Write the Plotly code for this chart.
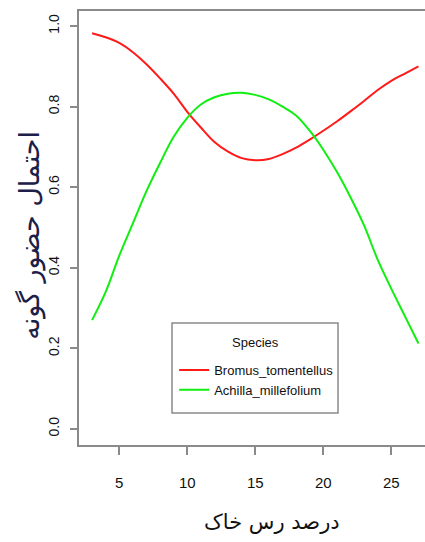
import plotly.graph_objects as go

# Soil clay percentage (x) and fitted occurrence probability per species
clay_pct = [3, 4, 5, 6, 7, 8, 9, 10, 11, 12, 13, 14, 15, 16, 17, 18, 19, 20,
            21, 22, 23, 24, 25, 26, 27]
bromus = [0.982, 0.972, 0.958, 0.935, 0.905, 0.870, 0.832, 0.787, 0.748, 0.712,
          0.688, 0.672, 0.667, 0.670, 0.682, 0.698, 0.718, 0.740, 0.763, 0.788,
          0.814, 0.841, 0.864, 0.882, 0.900]
achillea = [0.270, 0.340, 0.430, 0.510, 0.590, 0.660, 0.725, 0.772, 0.805, 0.823,
            0.832, 0.834, 0.829, 0.818, 0.800, 0.778, 0.740, 0.693, 0.638, 0.575,
            0.505, 0.420, 0.348, 0.280, 0.212]
species_names = ["Bromus_tomentellus", "Achilla_millefolium"]
x_ticks = [5, 10, 15, 20, 25]
y_ticks = [0.0, 0.2, 0.4, 0.6, 0.8, 1.0]
y_tick_text = ["0.0", "0.2", "0.4", "0.6", "0.8", "1.0"]

narrow = "Liberation Sans Narrow, Arial Narrow, Liberation Sans, Arial, sans-serif"
arabic = "DejaVu Sans, sans-serif"
axis_grey = "#8a8a8a"

fig = go.Figure()
fig.add_trace(go.Scatter(x=clay_pct, y=bromus, mode="lines", name=species_names[0],
                         line=dict(color="#ff1a1a", width=2, shape="spline", smoothing=1.0)))
fig.add_trace(go.Scatter(x=clay_pct, y=achillea, mode="lines", name=species_names[1],
                         line=dict(color="#11ee11", width=2, shape="spline", smoothing=1.0)))

fig.update_layout(
    width=425, height=542,
    margin=dict(l=79, r=0, t=11, b=97),
    paper_bgcolor="white", plot_bgcolor="white",
    showlegend=True,
    legend=dict(
        x=0.275, y=0.2074, xanchor="left", yanchor="top",
        borderwidth=0, bgcolor="rgba(0,0,0,0)",
        font=dict(family=narrow, size=13, color="#111"),
        itemwidth=30, tracegroupgap=0,
    ),
    xaxis=dict(
        range=[2.04, 27.48], tickmode="array", tickvals=x_ticks,
        showgrid=False, zeroline=False,
        showline=True, linecolor=axis_grey, linewidth=1.5, mirror=True,
        ticks="outside", ticklen=8, tickwidth=1.5, tickcolor=axis_grey,
        tickfont=dict(family=narrow, size=15, color="#111"),
        ticklabelstandoff=15,
    ),
    yaxis=dict(
        range=[-0.04, 1.0372], tickmode="array", tickvals=y_ticks, ticktext=y_tick_text,
        showgrid=False, zeroline=False,
        showline=True, linecolor=axis_grey, linewidth=1.5, mirror=False,
        ticks="outside", ticklen=7, tickwidth=1.5, tickcolor=axis_grey,
        tickangle=-90,
        tickfont=dict(family=narrow, size=14, color="#111"),
        ticklabelstandoff=6,
    ),
    shapes=[
        # legend frame
        dict(type="rect", xref="paper", yref="paper",
             x0=0.2688, x1=0.7486, y0=0.0737, y1=0.2811,
             line=dict(color=axis_grey, width=1.5), fillcolor="white", layer="below"),
    ],
    annotations=[
        dict(text="Species", xref="paper", yref="paper", x=0.5087, y=0.2373,
             xanchor="center", yanchor="middle", showarrow=False,
             font=dict(family=narrow, size=13, color="#111")),
        dict(text="درصد رس خاک", xref="paper", yref="paper", x=0.558, y=-0.177,
             xanchor="center", yanchor="middle", showarrow=False,
             font=dict(family=arabic, size=21, color="#111")),
        dict(text="احتمال حضور گونه", xref="paper", yref="paper", x=-0.142, y=0.484,
             xanchor="center", yanchor="middle", showarrow=False, textangle=-90,
             font=dict(family=arabic, size=27, color="#1c2048")),
    ],
)

fig.write_html("out.html")
